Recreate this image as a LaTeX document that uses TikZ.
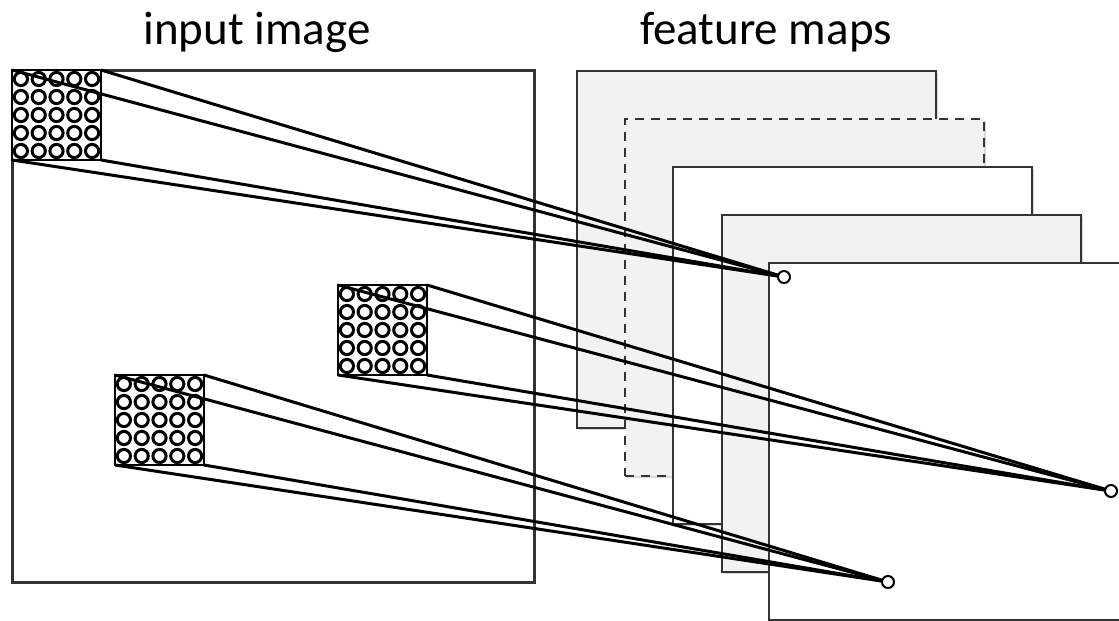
\documentclass[tikz,border=0pt]{standalone}
\usepackage{fontspec}
\setmainfont{Carlito}
\usetikzlibrary{shadows}
\definecolor{fmgrey}{HTML}{F2F2F2}
\definecolor{edge}{HTML}{333333}
\tikzset{
  shad/.style={drop shadow={shadow xshift=2pt,shadow yshift=-2pt,opacity=0.25,fill=black!60}},
  imgbox/.style={draw=edge,line width=3pt,fill=white,inner sep=0pt,outer sep=0pt,anchor=north west,shad},
  fmap/.style={draw=edge,line width=2.6pt,inner sep=0pt,outer sep=0pt,anchor=north west,minimum width=359pt,minimum height=357pt,shad},
  fmdash/.style={fmap,dash pattern=on 9pt off 7pt},
  patchbox/.style={draw=black,line width=2.6pt,fill=white,inner sep=0pt,outer sep=0pt,anchor=north west,minimum width=89pt,minimum height=90pt},
  pcirc/.style={draw=black,line width=3pt,fill=white},
  ray/.style={draw=black,line width=3pt,line join=round},
  tgt/.style={circle,draw=black,line width=2pt,fill=white,inner sep=0pt,minimum size=12pt},
  title/.style={font=\fontsize{47}{56}\selectfont,anchor=base,inner sep=0pt}
}
\newcommand\mypatch[3]{%
  \node[patchbox] (#1) at (#2,#3) {};
  \foreach \i in {0,...,4}{\foreach \j in {0,...,4}{%
    \draw[pcirc] ([shift={({8.9+17.8*\i},{9+18*\j})}]#1.north west) circle[radius=6.6pt];}}%
}
\newcommand\mypyramid[2]{%
  \draw[ray] (#1.north west) -- (#2);
  \draw[ray] (#1.north east) -- (#2);
  \draw[ray] (#1.south west) -- (#2);
  \draw[ray] (#1.south east) -- (#2);
}
\begin{document}
\begin{tikzpicture}[x=1pt,y=-1pt]
\useasboundingbox (0,0) rectangle (1119,621);
\clip (0,0) rectangle (1119,621);
% titles
\node[title] (lblin) at (257,44) {input image};
\node[title] (lblfm) at (766,44) {feature maps};
% input image
\node[imgbox,minimum width=522pt,minimum height=512pt] (img) at (12,70) {};
% patches
\mypatch{pa}{12}{70}
\mypatch{pb}{338}{285}
\mypatch{pc}{115}{375}
% feature maps
\node[fmap,fill=fmgrey] (fm1) at (577,71) {};
\node[fmdash,fill=fmgrey] (fm2) at (625,119) {};
\node[fmap,fill=white] (fm3) at (673,167) {};
\node[fmap,fill=fmgrey] (fm4) at (722,215) {};
\node[fmap,fill=white] (fm5) at (769,263) {};
% targets
\coordinate (ta) at (784,277);
\coordinate (tb) at (1111,491);
\coordinate (tc) at (888,582);
\mypyramid{pa}{ta}
\mypyramid{pb}{tb}
\mypyramid{pc}{tc}
\node[tgt] (ca) at (ta) {};
\node[tgt] (cb) at (tb) {};
\node[tgt] (cc) at (tc) {};
\end{tikzpicture}
\end{document}
